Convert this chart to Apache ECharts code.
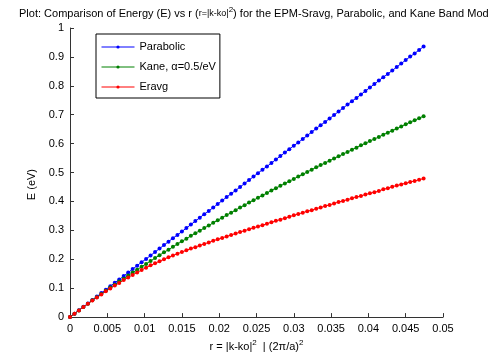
<!DOCTYPE html>
<html>
<head>
<meta charset="utf-8">
<script src="https://cdn.jsdelivr.net/npm/echarts@6/dist/echarts.min.js"></script>
<style>
  html, body { margin: 0; padding: 0; background: #fff; }
  #chart { width: 489px; height: 360px; }
</style>
</head>
<body>
<div id="chart"></div>
<script>
// r = |k-ko|^2 in units of (2pi/a)^2
const rValues = [
  0, 0.0006, 0.0012, 0.0018, 0.0024, 0.003, 0.0036, 0.0042, 0.0048, 0.0054,
  0.006, 0.0066, 0.0072, 0.0078, 0.0084, 0.009, 0.0096, 0.0102, 0.0108, 0.0114,
  0.012, 0.0126, 0.0132, 0.0138, 0.0144, 0.015, 0.0156, 0.0162, 0.0168, 0.0174,
  0.018, 0.0186, 0.0192, 0.0198, 0.0204, 0.021, 0.0216, 0.0222, 0.0228, 0.0234,
  0.024, 0.0246, 0.0252, 0.0258, 0.0264, 0.027, 0.0276, 0.0282, 0.0288, 0.0294,
  0.03, 0.0306, 0.0312, 0.0318, 0.0324, 0.033, 0.0336, 0.0342, 0.0348, 0.0354,
  0.036, 0.0366, 0.0372, 0.0378, 0.0384, 0.039, 0.0396, 0.0402, 0.0408, 0.0414,
  0.042, 0.0426, 0.0432, 0.0438, 0.0444, 0.045, 0.0456, 0.0462, 0.0468, 0.0474
];

const parabolic = [
  0, 0.012, 0.024, 0.036, 0.047, 0.059, 0.071, 0.083, 0.095, 0.107,
  0.119, 0.130, 0.142, 0.154, 0.166, 0.178, 0.190, 0.201, 0.213, 0.225,
  0.237, 0.249, 0.261, 0.273, 0.284, 0.296, 0.308, 0.320, 0.332, 0.344,
  0.356, 0.367, 0.379, 0.391, 0.403, 0.415, 0.427, 0.438, 0.450, 0.462,
  0.474, 0.486, 0.498, 0.510, 0.521, 0.533, 0.545, 0.557, 0.569, 0.581,
  0.593, 0.604, 0.616, 0.628, 0.640, 0.652, 0.664, 0.675, 0.687, 0.699,
  0.711, 0.723, 0.735, 0.747, 0.758, 0.770, 0.782, 0.794, 0.806, 0.818,
  0.830, 0.841, 0.853, 0.865, 0.877, 0.889, 0.901, 0.912, 0.924, 0.936
];

const kane = [
  0, 0.012, 0.023, 0.035, 0.046, 0.058, 0.069, 0.080, 0.091, 0.102,
  0.112, 0.123, 0.133, 0.144, 0.154, 0.164, 0.174, 0.184, 0.194, 0.204,
  0.214, 0.224, 0.233, 0.243, 0.253, 0.262, 0.271, 0.281, 0.290, 0.299,
  0.308, 0.317, 0.326, 0.335, 0.344, 0.353, 0.361, 0.370, 0.379, 0.387,
  0.396, 0.404, 0.413, 0.421, 0.429, 0.438, 0.446, 0.454, 0.462, 0.470,
  0.478, 0.486, 0.494, 0.502, 0.510, 0.518, 0.526, 0.533, 0.541, 0.549,
  0.556, 0.564, 0.571, 0.579, 0.586, 0.594, 0.601, 0.609, 0.616, 0.623,
  0.631, 0.638, 0.645, 0.652, 0.659, 0.667, 0.674, 0.681, 0.688, 0.695
];

const eravg = [
  0, 0.012, 0.023, 0.035, 0.046, 0.057, 0.068, 0.078, 0.089, 0.099,
  0.109, 0.118, 0.128, 0.137, 0.146, 0.154, 0.163, 0.171, 0.179, 0.186,
  0.193, 0.200, 0.207, 0.213, 0.219, 0.225, 0.231, 0.237, 0.242, 0.248,
  0.253, 0.258, 0.264, 0.269, 0.274, 0.279, 0.284, 0.289, 0.294, 0.299,
  0.304, 0.309, 0.313, 0.318, 0.323, 0.328, 0.333, 0.337, 0.342, 0.347,
  0.352, 0.357, 0.361, 0.366, 0.370, 0.375, 0.379, 0.384, 0.388, 0.393,
  0.398, 0.402, 0.406, 0.411, 0.415, 0.419, 0.424, 0.428, 0.432, 0.436,
  0.442, 0.446, 0.451, 0.455, 0.459, 0.463, 0.467, 0.471, 0.475, 0.479
];

const seriesNames = ['Parabolic', 'Kane, \u03b1=0.5/eV', 'Eravg'];
const seriesColors = ['#0000ff', '#008000', '#ff0000'];

const font = '"Liberation Sans", Arial, sans-serif';

const chart = echarts.init(document.getElementById('chart'), null, { renderer: 'canvas' });

const pairs = (ys) => rValues.map((r, i) => [r, ys[i]]);

const makeSeries = (name, ys, color) => ({
  name: name,
  type: 'line',
  data: pairs(ys),
  symbol: 'circle',
  symbolSize: 4,
  showSymbol: true,
  lineStyle: { color: color, width: 1 },
  itemStyle: { color: color },
  emphasis: { disabled: true }
});

const option = {
  animation: false,
  backgroundColor: '#fff',
  title: {
    text: 'Plot: Comparison of Energy (E) vs r ({s|r=|k-ko|}{sup|2}) for the EPM-Sravg, Parabolic, and Kane Band Models',
    left: 14,
    top: 1,
    textStyle: {
      fontFamily: font,
      fontSize: 11,
      fontWeight: 'normal',
      color: '#000',
      lineHeight: 16,
      rich: {
        s: { fontFamily: font, fontSize: 9, color: '#000' },
        sup: { fontFamily: font, fontSize: 8, color: '#000', verticalAlign: 'top' }
      }
    }
  },
  legend: {
    orient: 'vertical',
    left: 96,
    top: 34,
    padding: [6, 4, 4, 5],
    itemWidth: 33,
    itemHeight: 4,
    itemGap: 6,
    backgroundColor: '#fff',
    borderColor: '#000',
    borderWidth: 1,
    borderRadius: 0,
    selectedMode: false,
    lineStyle: { width: 1 },
    textStyle: { fontFamily: font, fontSize: 11, color: '#000', lineHeight: 14 },
    data: seriesNames
  },
  grid: {
    left: 70,
    right: 46,
    top: 28,
    bottom: 38,
    containLabel: false
  },
  xAxis: {
    type: 'value',
    min: 0,
    max: 0.05,
    interval: 0.005,
    name: 'r = |k-ko|{sup|2}  | (2\u03c0/a){sup|2}',
    nameLocation: 'middle',
    nameGap: 21,
    nameTextStyle: {
      fontFamily: font,
      fontSize: 11,
      color: '#000',
      lineHeight: 16,
      rich: {
        sup: { fontFamily: font, fontSize: 8, color: '#000', verticalAlign: 'top' }
      }
    },
    axisLine: { show: true, onZero: false, lineStyle: { color: '#333', width: 1 } },
    axisTick: { show: true, inside: true, length: 4, lineStyle: { color: '#333' } },
    axisLabel: { fontFamily: font, fontSize: 11, color: '#000', margin: 6 },
    splitLine: { show: false }
  },
  yAxis: {
    type: 'value',
    min: 0,
    max: 1,
    interval: 0.1,
    name: 'E (eV)',
    nameLocation: 'middle',
    nameGap: 24,
    nameTextStyle: { fontFamily: font, fontSize: 11, color: '#000', padding: [0, 24, 0, 0] },
    axisLine: { show: true, onZero: false, lineStyle: { color: '#333', width: 1 } },
    axisTick: { show: true, inside: true, length: 4, lineStyle: { color: '#333' } },
    axisLabel: { fontFamily: font, fontSize: 11, color: '#000', margin: 6 },
    splitLine: { show: false }
  },
  series: [
    makeSeries(seriesNames[0], parabolic, seriesColors[0]),
    makeSeries(seriesNames[1], kane, seriesColors[1]),
    makeSeries(seriesNames[2], eravg, seriesColors[2])
  ]
};

chart.setOption(option);
</script>
</body>
</html>
